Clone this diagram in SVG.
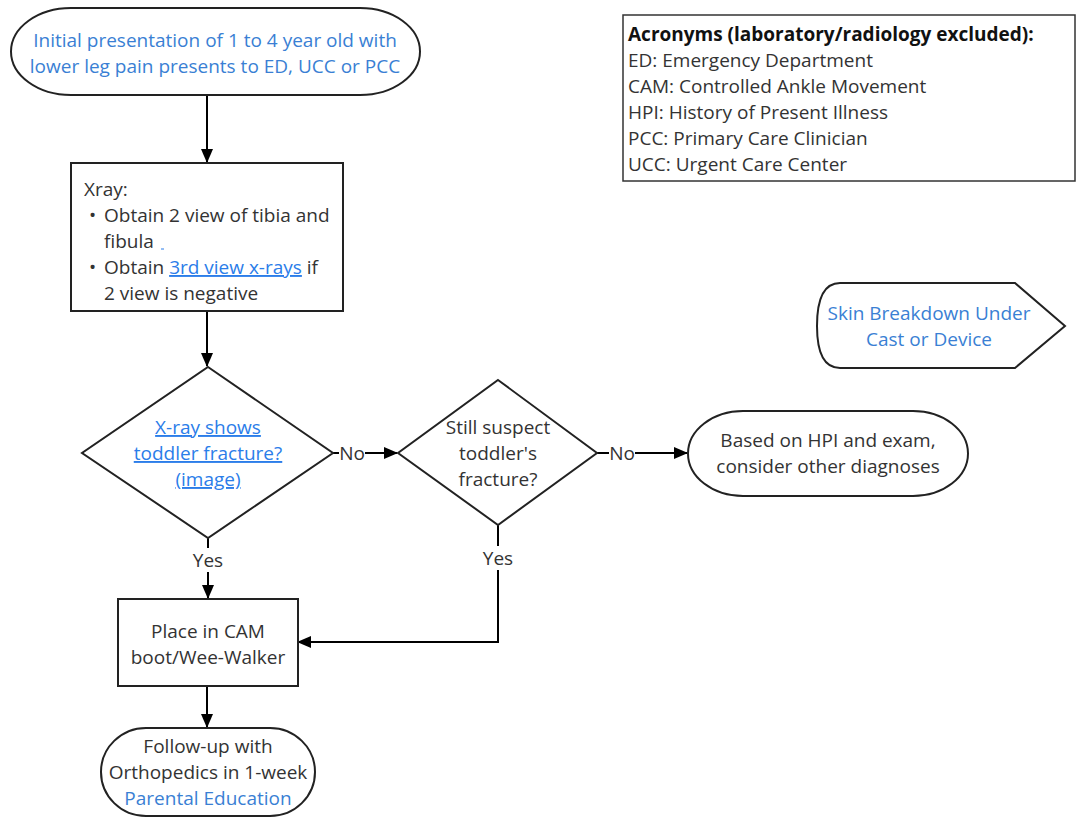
<svg xmlns="http://www.w3.org/2000/svg" width="1076" height="817" viewBox="0 0 1076 817">
<style>
text{font-family:"Open Sans","Noto Sans","Liberation Sans",sans-serif;font-size:19px;fill:#333}
.c{text-anchor:middle}
.b{fill:#3a7fd4}
.u{fill:#2b7de9;text-decoration:underline}
.s{fill:#fff;stroke:#222;stroke-width:2}
.ln{fill:none;stroke:#000;stroke-width:2}
.bold{font-weight:bold;fill:#111}
</style>
<defs>
<marker id="ar" markerWidth="14" markerHeight="12" refX="13" refY="6" orient="auto" markerUnits="userSpaceOnUse">
<path d="M0,0 L14,6 L0,12 Z" fill="#000"/>
</marker>
</defs>
<rect width="1076" height="817" fill="#fff"/>
<g id="connectors">
<path class="ln" d="M207,95 V162" marker-end="url(#ar)"/>
<path class="ln" d="M207,311 V366" marker-end="url(#ar)"/>
<path class="ln" d="M333,453 H397" marker-end="url(#ar)"/>
<path class="ln" d="M597,453 H687" marker-end="url(#ar)"/>
<path class="ln" d="M208,538 V548"/>
<path class="ln" d="M208,572 V598" marker-end="url(#ar)"/>
<path class="ln" d="M498,525 V546"/>
<path class="ln" d="M498,570 V642 H298" marker-end="url(#ar)"/>
<path class="ln" d="M207,686 V727" marker-end="url(#ar)"/>
<rect x="339" y="443" width="26" height="20" fill="#fff"/>
<text class="c" x="352" y="460">No</text>
<rect x="609" y="443" width="26" height="20" fill="#fff"/>
<text class="c" x="622" y="460">No</text>
<text class="c" x="208" y="567">Yes</text>
<text class="c" x="498" y="565">Yes</text>
</g>
<g id="start">
<rect class="s" x="11" y="8" width="409" height="87" rx="60" ry="43.5"/>
<text class="c b" x="215" y="47">Initial presentation of 1 to 4 year old with</text>
<text class="c b" x="215" y="73">lower leg pain presents to ED, UCC or PCC</text>
</g>
<g id="xray">
<rect class="s" x="71" y="163" width="272" height="148"/>
<text x="84" y="196">Xray:</text>
<text x="89" y="222">•</text>
<text x="104" y="222">Obtain 2 view of tibia and</text>
<text x="104" y="248">fibula</text>
<line x1="161" y1="249" x2="164" y2="249" stroke="#2b7de9" stroke-width="1"/>
<text x="89" y="274">•</text>
<text x="104" y="274">Obtain <tspan class="u">3rd view x-rays</tspan> if</text>
<text x="104" y="300">2 view is negative</text>
</g>
<g id="decision1">
<polygon class="s" points="208,367 333,453 208,538 82,453"/>
<text class="c u" x="208" y="434">X-ray shows</text>
<text class="c u" x="208" y="460">toddler fracture?</text>
<text class="c u" x="208" y="486">(image)</text>
</g>
<g id="decision2">
<polygon class="s" points="498,380 597,453 498,525 398,453"/>
<text class="c" x="498" y="434">Still suspect</text>
<text class="c" x="498" y="460">toddler's</text>
<text class="c" x="498" y="486">fracture?</text>
</g>
<g id="other">
<rect class="s" x="688" y="411" width="280" height="85" rx="55" ry="42.5"/>
<text class="c" x="828" y="447">Based on HPI and exam,</text>
<text class="c" x="828" y="473">consider other diagnoses</text>
</g>
<g id="cam">
<rect class="s" x="118" y="599" width="180" height="87"/>
<text class="c" x="208" y="638">Place in CAM</text>
<text class="c" x="208" y="664">boot/Wee-Walker</text>
</g>
<g id="followup">
<rect class="s" x="101" y="728" width="214" height="88" rx="45" ry="44"/>
<text class="c" x="208" y="753">Follow-up with</text>
<text class="c" x="208" y="779">Orthopedics in 1-week</text>
<text class="c b" x="208" y="805">Parental Education</text>
</g>
<g id="skin">
<path class="s" d="M840,283 H1015 L1065,326 L1015,368 H840 Q817,368 817,326 Q817,283 840,283 Z"/>
<text class="c b" x="929" y="320">Skin Breakdown Under</text>
<text class="c b" x="929" y="346">Cast or Device</text>
</g>
<g id="acronyms">
<rect x="623" y="15" width="452" height="166" fill="#fff" stroke="#333" stroke-width="1.5"/>
<text class="bold" x="628" y="41">Acronyms (laboratory/radiology excluded):</text>
<text x="628" y="67">ED: Emergency Department</text>
<text x="628" y="93">CAM: Controlled Ankle Movement</text>
<text x="628" y="119">HPI: History of Present Illness</text>
<text x="628" y="145">PCC: Primary Care Clinician</text>
<text x="628" y="171">UCC: Urgent Care Center</text>
</g>
</svg>
